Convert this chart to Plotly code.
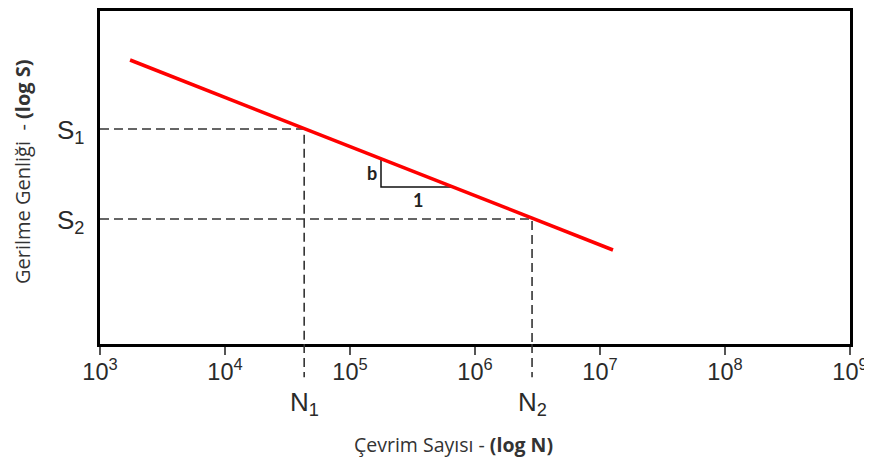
import math
import plotly.graph_objects as go

# ---- data ----
# S-N line in log-log space: cycles N, stress amplitude as log S (arbitrary units)
line_N = [1.74e3, 1.27e7]
line_logS = [2.84, 0.94]

N1 = 4.3e4
N2 = 2.86e6
S1 = 2.15
S2 = 1.25

# slope triangle
tri_N = [1.77e5, 1.77e5, 6.6e5]
tri_logS = [1.85, 1.57, 1.57]
b_label_pos = (1.5e5, 1.71)
one_label_pos = (3.5e5, 1.44)

tick_vals = [1e3, 1e4, 1e5, 1e6, 1e7, 1e8, 1e9]
tick_text = ["10<sup>3</sup>", "10<sup>4</sup>", "10<sup>5</sup>", "10<sup>6</sup>",
             "10<sup>7</sup>", "10<sup>8</sup>", "10<sup>9</sup>"]

x_title = "Çevrim Sayısı - <b>(log N)</b>"
y_title = "Gerilme Genliği  - <b>(log S)</b>"

x_min, x_max = 1e3, 1e9
y_min, y_max = 0.0, 3.33

DASH = "9px,5px"
DASH_COLOR = "#333333"
LABEL_FONT = dict(family="Liberation Sans, Arial, sans-serif", size=26, color="#2a2a2a")
TICK_FONT = dict(family="Liberation Sans, Arial, sans-serif", size=23.5, color="#2a2a2a")
TITLE_FONT = dict(family="Open Sans, Noto Sans, sans-serif", size=19.5, color="#333333")
SMALL_FONT = dict(family="Lato, DejaVu Sans, sans-serif", size=18, color="#222222")


def lx(v):
    # annotations on a log axis are positioned in log10 units
    return math.log10(v)


fig = go.Figure()

# dashed guide lines inside the plot
fig.add_trace(go.Scatter(x=[x_min, N1, N1], y=[S1, S1, y_min], mode="lines",
                         line=dict(color=DASH_COLOR, width=1.6, dash=DASH),
                         hoverinfo="skip", showlegend=False))
fig.add_trace(go.Scatter(x=[x_min, N2, N2], y=[S2, S2, y_min], mode="lines",
                         line=dict(color=DASH_COLOR, width=1.6, dash=DASH),
                         hoverinfo="skip", showlegend=False))

# slope triangle
fig.add_trace(go.Scatter(x=tri_N, y=tri_logS, mode="lines",
                         line=dict(color="#111111", width=1.5),
                         hoverinfo="skip", showlegend=False))

# S-N line
fig.add_trace(go.Scatter(x=line_N, y=line_logS, mode="lines",
                         line=dict(color="#ff0000", width=3.5),
                         hoverinfo="skip", showlegend=False))

# dashed extensions below the axis
for n in (N1, N2):
    fig.add_shape(type="line", xref="x", yref="paper", x0=n, x1=n, y0=0, y1=-0.1,
                  line=dict(color=DASH_COLOR, width=1.6, dash=DASH), layer="above")

annotations = [
    dict(x=lx(b_label_pos[0]), y=b_label_pos[1], xref="x", yref="y", text="<b>b</b>", showarrow=False,
         font=SMALL_FONT, xanchor="center", yanchor="middle"),
    dict(x=lx(one_label_pos[0]), y=one_label_pos[1], xref="x", yref="y", text="<b>1</b>", showarrow=False,
         font=SMALL_FONT, xanchor="center", yanchor="middle"),
    dict(x=-0.04, y=S1, xref="paper", yref="y", text="S<sub>1</sub>", showarrow=False,
         font=LABEL_FONT, xanchor="center", yanchor="middle", yshift=-2),
    dict(x=-0.04, y=S2, xref="paper", yref="y", text="S<sub>2</sub>", showarrow=False,
         font=LABEL_FONT, xanchor="center", yanchor="middle", yshift=-2),
    dict(x=lx(N1), y=-0.18, xref="x", yref="paper", text="N<sub>1</sub>", showarrow=False,
         font=LABEL_FONT, xanchor="center", yanchor="middle"),
    dict(x=lx(N2), y=-0.18, xref="x", yref="paper", text="N<sub>2</sub>", showarrow=False,
         font=LABEL_FONT, xanchor="center", yanchor="middle"),
    dict(x=0.4707, y=-0.303, xref="paper", yref="paper", text=x_title, showarrow=False,
         font=TITLE_FONT, xanchor="center", yanchor="middle"),
    dict(x=-0.104, y=0.5165, xref="paper", yref="paper", text=y_title, showarrow=False,
         textangle=-90, font=dict(TITLE_FONT, size=20),
         xanchor="center", yanchor="middle"),
]

# the page body adds an 8px offset, so the figure is sized to fill the window
fig.update_layout(
    width=864, height=457,
    margin=dict(l=92, r=22, t=3, b=121),
    paper_bgcolor="white", plot_bgcolor="white",
    showlegend=False,
    annotations=annotations,
    xaxis=dict(type="log", range=[3, 9], tickvals=tick_vals, ticktext=tick_text,
               ticks="outside", ticklen=8, tickwidth=2, tickcolor="#555555",
               ticklabelstandoff=-3, ticklabeloverflow="allow",
               tickfont=TICK_FONT, showgrid=False, zeroline=False, automargin=False,
               showline=True, linecolor="black", linewidth=3, mirror=True),
    yaxis=dict(range=[y_min, y_max], showticklabels=False, ticks="", showgrid=False,
               zeroline=False, automargin=False,
               showline=True, linecolor="black", linewidth=3, mirror=True),
)

fig.write_html("out.html")
